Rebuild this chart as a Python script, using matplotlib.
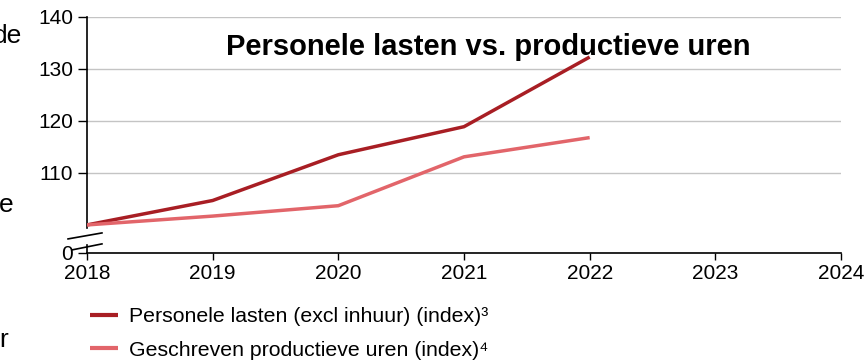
import matplotlib
matplotlib.use("Agg")
import matplotlib.pyplot as plt

plt.rcParams['font.family'] = ['Liberation Sans', 'DejaVu Sans']

years = [2018, 2019, 2020, 2021, 2022]
personele_lasten = [100.0, 104.7, 113.5, 118.9, 132.3]
productieve_uren = [100.0, 101.7, 103.7, 113.1, 116.8]
labels = ["Personele lasten (excl inhuur) (index)\u00b3",
          "Geschreven productieve uren (index)\u2074"]
title = "Personele lasten vs. productieve uren"
x_ticks = [2018, 2019, 2020, 2021, 2022, 2023, 2024]
y_ticks = [110, 120, 130, 140]
y_bottom = 94.6  # axis break: bottom shown as 0

dark = "#A81E24"
light = "#E2656A"

W, H = 866, 363
fig = plt.figure(figsize=(W / 100, H / 100), dpi=100)
ax = fig.add_axes([87 / W, (H - 253) / H, (841 - 87) / W, (253 - 17) / H])

l1, = ax.plot(years, personele_lasten, color=dark, lw=2.5, solid_capstyle='butt', zorder=3)
l2, = ax.plot(years, productieve_uren, color=light, lw=2.5, solid_capstyle='butt', zorder=3)

ax.set_xlim(2018, 2024)
ax.set_ylim(y_bottom, 140)
ax.set_xticks(x_ticks)
ax.set_xticklabels([str(x) for x in x_ticks])
ax.set_yticks([y_bottom] + y_ticks)
ax.set_yticklabels(["0"] + [str(y) for y in y_ticks])

ax.yaxis.grid(True, color="#c4c4c4", lw=1.0)
ax.set_axisbelow(True)
for s in ["top", "right"]:
    ax.spines[s].set_visible(False)
ax.spines["left"].set_bounds(99.4, 140)
ax.spines["left"].set_linewidth(1.2)
ax.spines["bottom"].set_linewidth(1.2)
ax.tick_params(axis="y", direction="out", length=6.5, width=1.0, pad=3.5, labelsize=15)
ax.tick_params(axis="x", direction="out", length=5, width=1.0, pad=3, labelsize=15)

# axis break marks
kw = dict(color="black", lw=1.2, clip_on=False, zorder=4)
ax.plot([2017.849, 2018.119], [97.31, 98.46], **kw)
ax.plot([2017.88, 2018.119], [95.19, 96.35], **kw)
ax.plot([2018, 2018], [96.15, y_bottom], **kw)

fig.text(488 / W, 1 - 47 / H, title, ha="center", va="center",
         fontsize=21, fontweight="bold")

leg = fig.legend([l1, l2], labels, loc="upper left",
                 bbox_to_anchor=(90 / W, 1 - 307 / H), frameon=False,
                 fontsize=15.3, handlelength=1.3, handletextpad=0.55,
                 labelspacing=0.7, borderaxespad=0, borderpad=0)
for ln in leg.get_lines():
    ln.set_linewidth(3.0)

# cut-off text from neighbouring content at left edge (as in the reference)
fig.text(22 / W, 1 - 36 / H, "de", ha="right", va="center", fontsize=19)
fig.text(13 / W, 1 - 205 / H, "e", ha="right", va="center", fontsize=19)
fig.text(8 / W, 1 - 340 / H, "r", ha="right", va="center", fontsize=19)

fig.savefig("out.png", dpi=100)
